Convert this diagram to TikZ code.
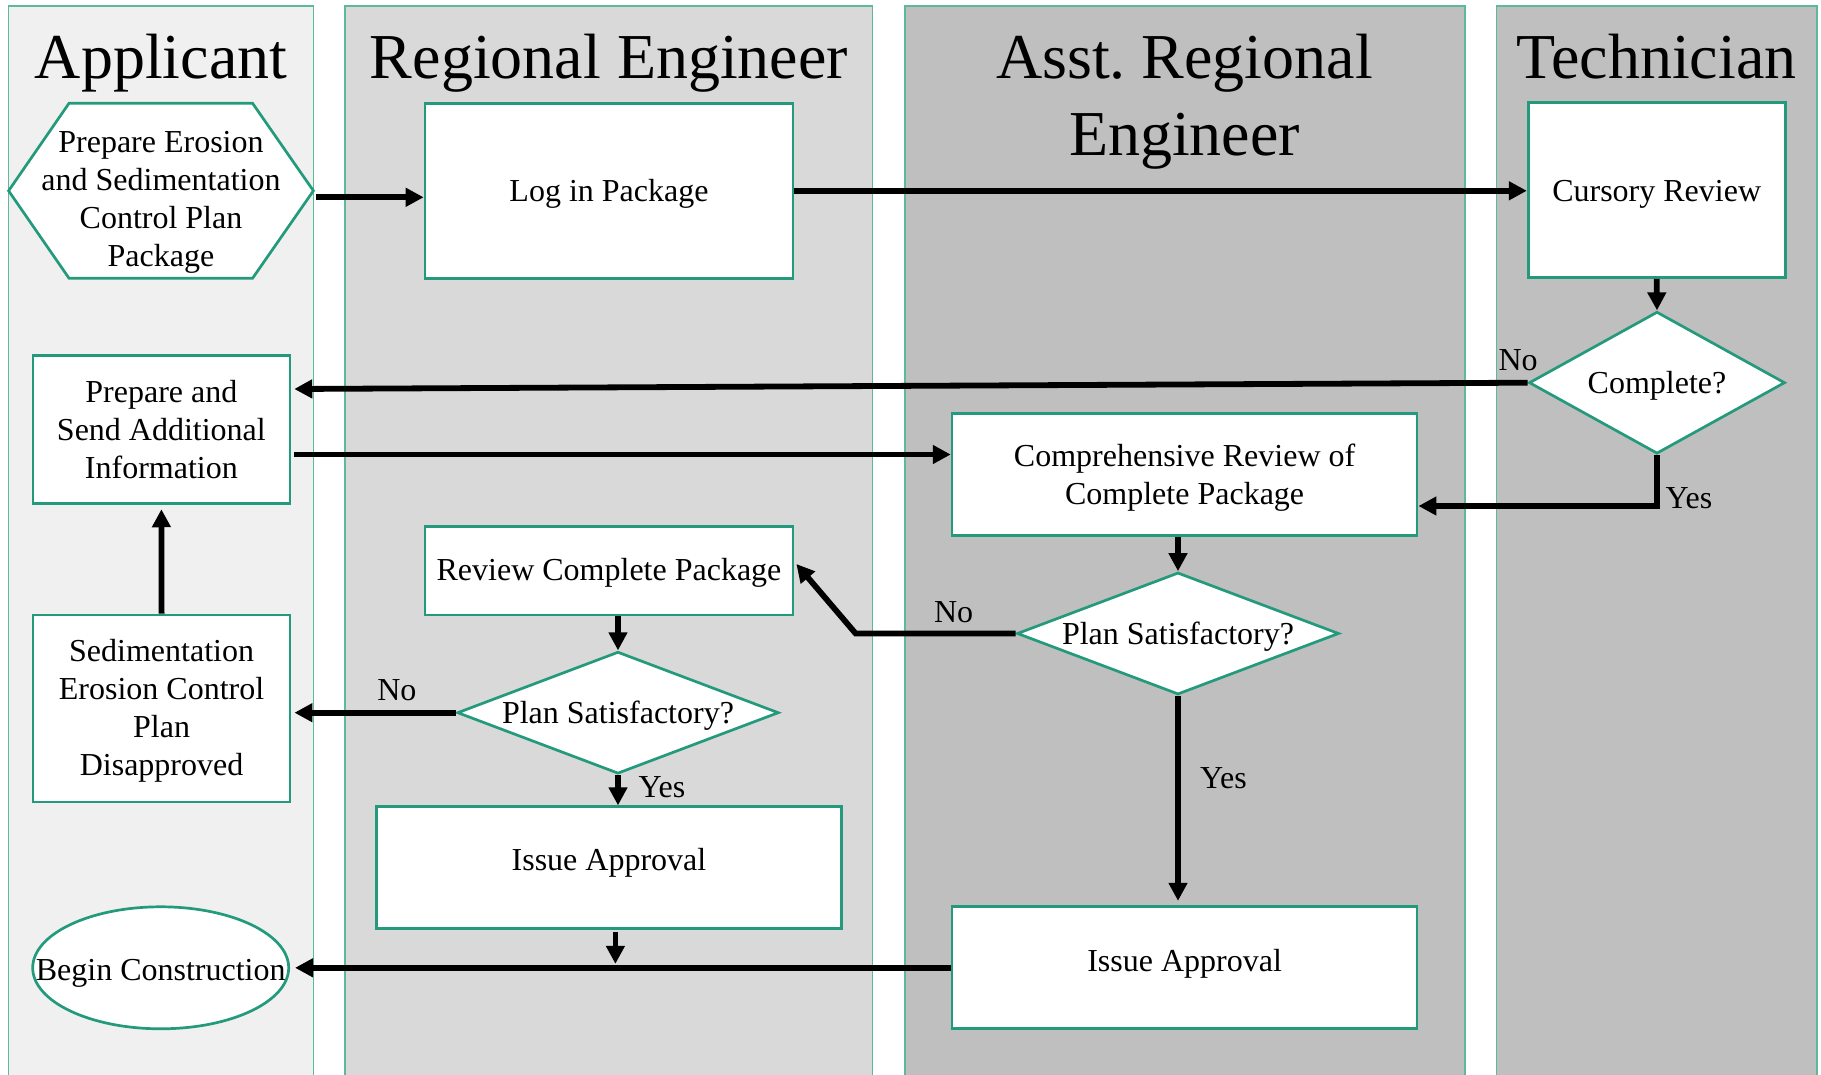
\documentclass[tikz,border=0pt]{standalone}
\usepackage{fontspec}
\setmainfont{Liberation Serif}
\usetikzlibrary{arrows.meta,calc,shapes.geometric}
\definecolor{laneA}{HTML}{F0F0F0}
\definecolor{laneB}{HTML}{D9D9D9}
\definecolor{laneC}{HTML}{BFBFBF}
\definecolor{laneline}{HTML}{5DB99B}
\definecolor{boxline}{HTML}{239A7C}
\newcommand{\hstrut}[1]{\rule{0pt}{#1}}
\newcommand{\dstrut}[1]{\rule[-#1]{0pt}{#1}}
\begin{document}
\begin{tikzpicture}[x=0.5pt,y=-0.5pt,
  bodyfont/.style={font=\fontsize{16}{19}\selectfont},
  titlefont/.style={font=\fontsize{32}{38.25}\selectfont},
  procbox/.style={draw=boxline, line width=1.35pt, fill=white, rectangle, inner sep=0pt, align=center, bodyfont},
  decision/.style={draw=boxline, line width=1.35pt, fill=white, diamond, inner sep=-3pt, align=center, bodyfont},
  flow/.style={line width=2.9pt, -{Triangle[length=9pt,width=9pt]}},
  tag/.style={bodyfont, inner sep=0pt},
  lanetitle/.style={titlefont, inner sep=0pt, align=center},
  lanebox/.style={draw=laneline, line width=0.6pt}]

\useasboundingbox (0,0) rectangle (1821,1075);

% swimlanes
\fill[laneA] (8.6,6) rectangle (313.4,1075);
\draw[lanebox] (8.6,1075) -- (8.6,6) -- (313.4,6) -- (313.4,1075);
\fill[laneB] (345,6) rectangle (872.7,1075);
\draw[lanebox] (345,1075) -- (345,6) -- (872.7,6) -- (872.7,1075);
\fill[laneC] (905,6) rectangle (1465,1075);
\draw[lanebox] (905,1075) -- (905,6) -- (1465,6) -- (1465,1075);
\fill[laneC] (1496.5,6) rectangle (1817,1075);
\draw[lanebox] (1496.5,1075) -- (1496.5,6) -- (1817,6) -- (1817,1075);

% lane titles
\node[lanetitle, anchor=base] (tA) at (161,78.5) {Applicant};
\node[lanetitle, anchor=base] (tR) at (609,78.5) {Regional Engineer};
\node[lanetitle] (tS) at (1184.5,101.8) {Asst.\ Regional\\Engineer};
\node[lanetitle, anchor=base] (tT) at (1656.5,78.5) {Technician};

% hexagon start
\filldraw[draw=boxline, fill=white, line width=1.35pt]
  (8.6,190.8) -- (69,103.3) -- (252.6,103.3) -- (313.4,190.8) -- (252.6,278.2) -- (69,278.2) -- cycle;
\node[inner sep=0pt, minimum width=152.4pt, minimum height=87.5pt,
  label={[bodyfont, align=center, yshift=-5.75pt]center:{Prepare Erosion\\and Sedimentation\\Control Plan\\Package}}] (hex) at (161,190.8) {};

% process nodes
\node[procbox, minimum width=184pt, minimum height=87.5pt] (log) at (609,190.8) {\hstrut{14.4pt}Log in Package};
\node[procbox, minimum width=128.5pt, minimum height=87.5pt] (cursory) at (1656.7,190) {\hstrut{15.4pt}Cursory Review};
\node[decision, minimum width=128pt, minimum height=71pt, aspect=1.8] (complete) at (1657,382.7) {\hstrut{14.4pt}Complete?};
\node[procbox, minimum width=128.5pt, minimum height=74pt] (prep) at (161.4,429.4) {Prepare and\\Send Additional\\Information};
\node[procbox, minimum width=232.5pt, minimum height=61pt] (comp) at (1184.6,474.4) {\hstrut{14.9pt}Comprehensive Review of\\Complete Package};
\node[procbox, minimum width=184pt, minimum height=44.25pt] (review) at (609,570.6) {\hstrut{13.2pt}Review Complete Package};
\node[decision, minimum width=161pt, minimum height=61pt, aspect=2.64] (psatR) at (1178,633.5) {\hstrut{14.4pt}Plan Satisfactory?};
\node[decision, minimum width=160.75pt, minimum height=61pt, aspect=2.64] (psatL) at (618,712.7) {\hstrut{14.4pt}Plan Satisfactory?};
\node[procbox, minimum width=128.5pt, minimum height=93.5pt] (sed) at (161.6,708.5) {\hstrut{13.9pt}Sedimentation\\Erosion Control\\Plan\\Disapproved};
\node[procbox, minimum width=232.5pt, minimum height=61pt] (issueL) at (609,867.7) {Issue Approval\dstrut{8.1pt}};
\node[procbox, minimum width=232.5pt, minimum height=61pt] (issueR) at (1184.6,967.8) {Issue Approval\dstrut{7pt}};
\node[ellipse, draw=boxline, line width=1.35pt, fill=white, minimum width=128pt, minimum height=61pt, inner sep=0pt,
  label={[bodyfont, yshift=-2.9pt]center:Begin Construction}] (begin) at (160.7,967.8) {};

% connectors
\draw[flow] ($(hex.east)+(2,6.5)$) -- ($(log.west)+(0,6.5)$);
\draw[flow] (log.east) -- (log.east -| cursory.west);
\draw[flow] (cursory.south) -- (complete.north);
\draw[flow] (complete.west) -- ($(prep.east)+(3,-40.4)$);
\node[tag] (noC) at ($(complete.west)+(-9.5,-22.7)$) {No};
\draw[flow] ($(prep.east)+(3,25.1)$) -- ($(comp.west)+(0,-19.9)$);
\draw[flow] (complete.south) |- ($(comp.east)+(0,31.6)$);
\node[tag] (yesC) at ($(complete.south)+(32,43)$) {Yes};
\draw[flow] (psatR.north |- comp.south) -- (psatR.north);
\coordinate (elbow) at ($(psatR.west)+(-160,0)$);
\draw[flow] (psatR.west) -- (elbow) -- ($(review.east)+(2,-6.6)$);
\node[tag] (noR) at ($(psatR.west)+(-62,-21.5)$) {No};
\draw[flow] (psatR.south) -- ($(psatR.south |- issueR.north)+(0,-4.6)$);
\node[tag] (yesR) at ($(psatR.south)+(45.5,82.5)$) {Yes};
\draw[flow] (psatL.north |- review.south) -- (psatL.north);
\draw[flow] (psatL.west) -- ($(psatL.west -| sed.east)+(3,0)$);
\node[tag] (noL) at ($(psatL.west)+(-59,-22.7)$) {No};
\draw[flow] (psatL.south) -- (psatL.south |- issueL.north);
\node[tag] (yesL) at ($(psatL.south)+(44,12.3)$) {Yes};
\coordinate (join) at ($(issueL.south)+(6.4,33.8)$);
\draw[flow] ($(issueL.south)+(6.4,2)$) -- (join);
\draw[flow] (issueR.west) -- ($(begin.east)+(5,0)$);
\draw[flow] (sed.north) -- ($(prep.south)+(0,4.5)$);

\end{tikzpicture}
\end{document}
